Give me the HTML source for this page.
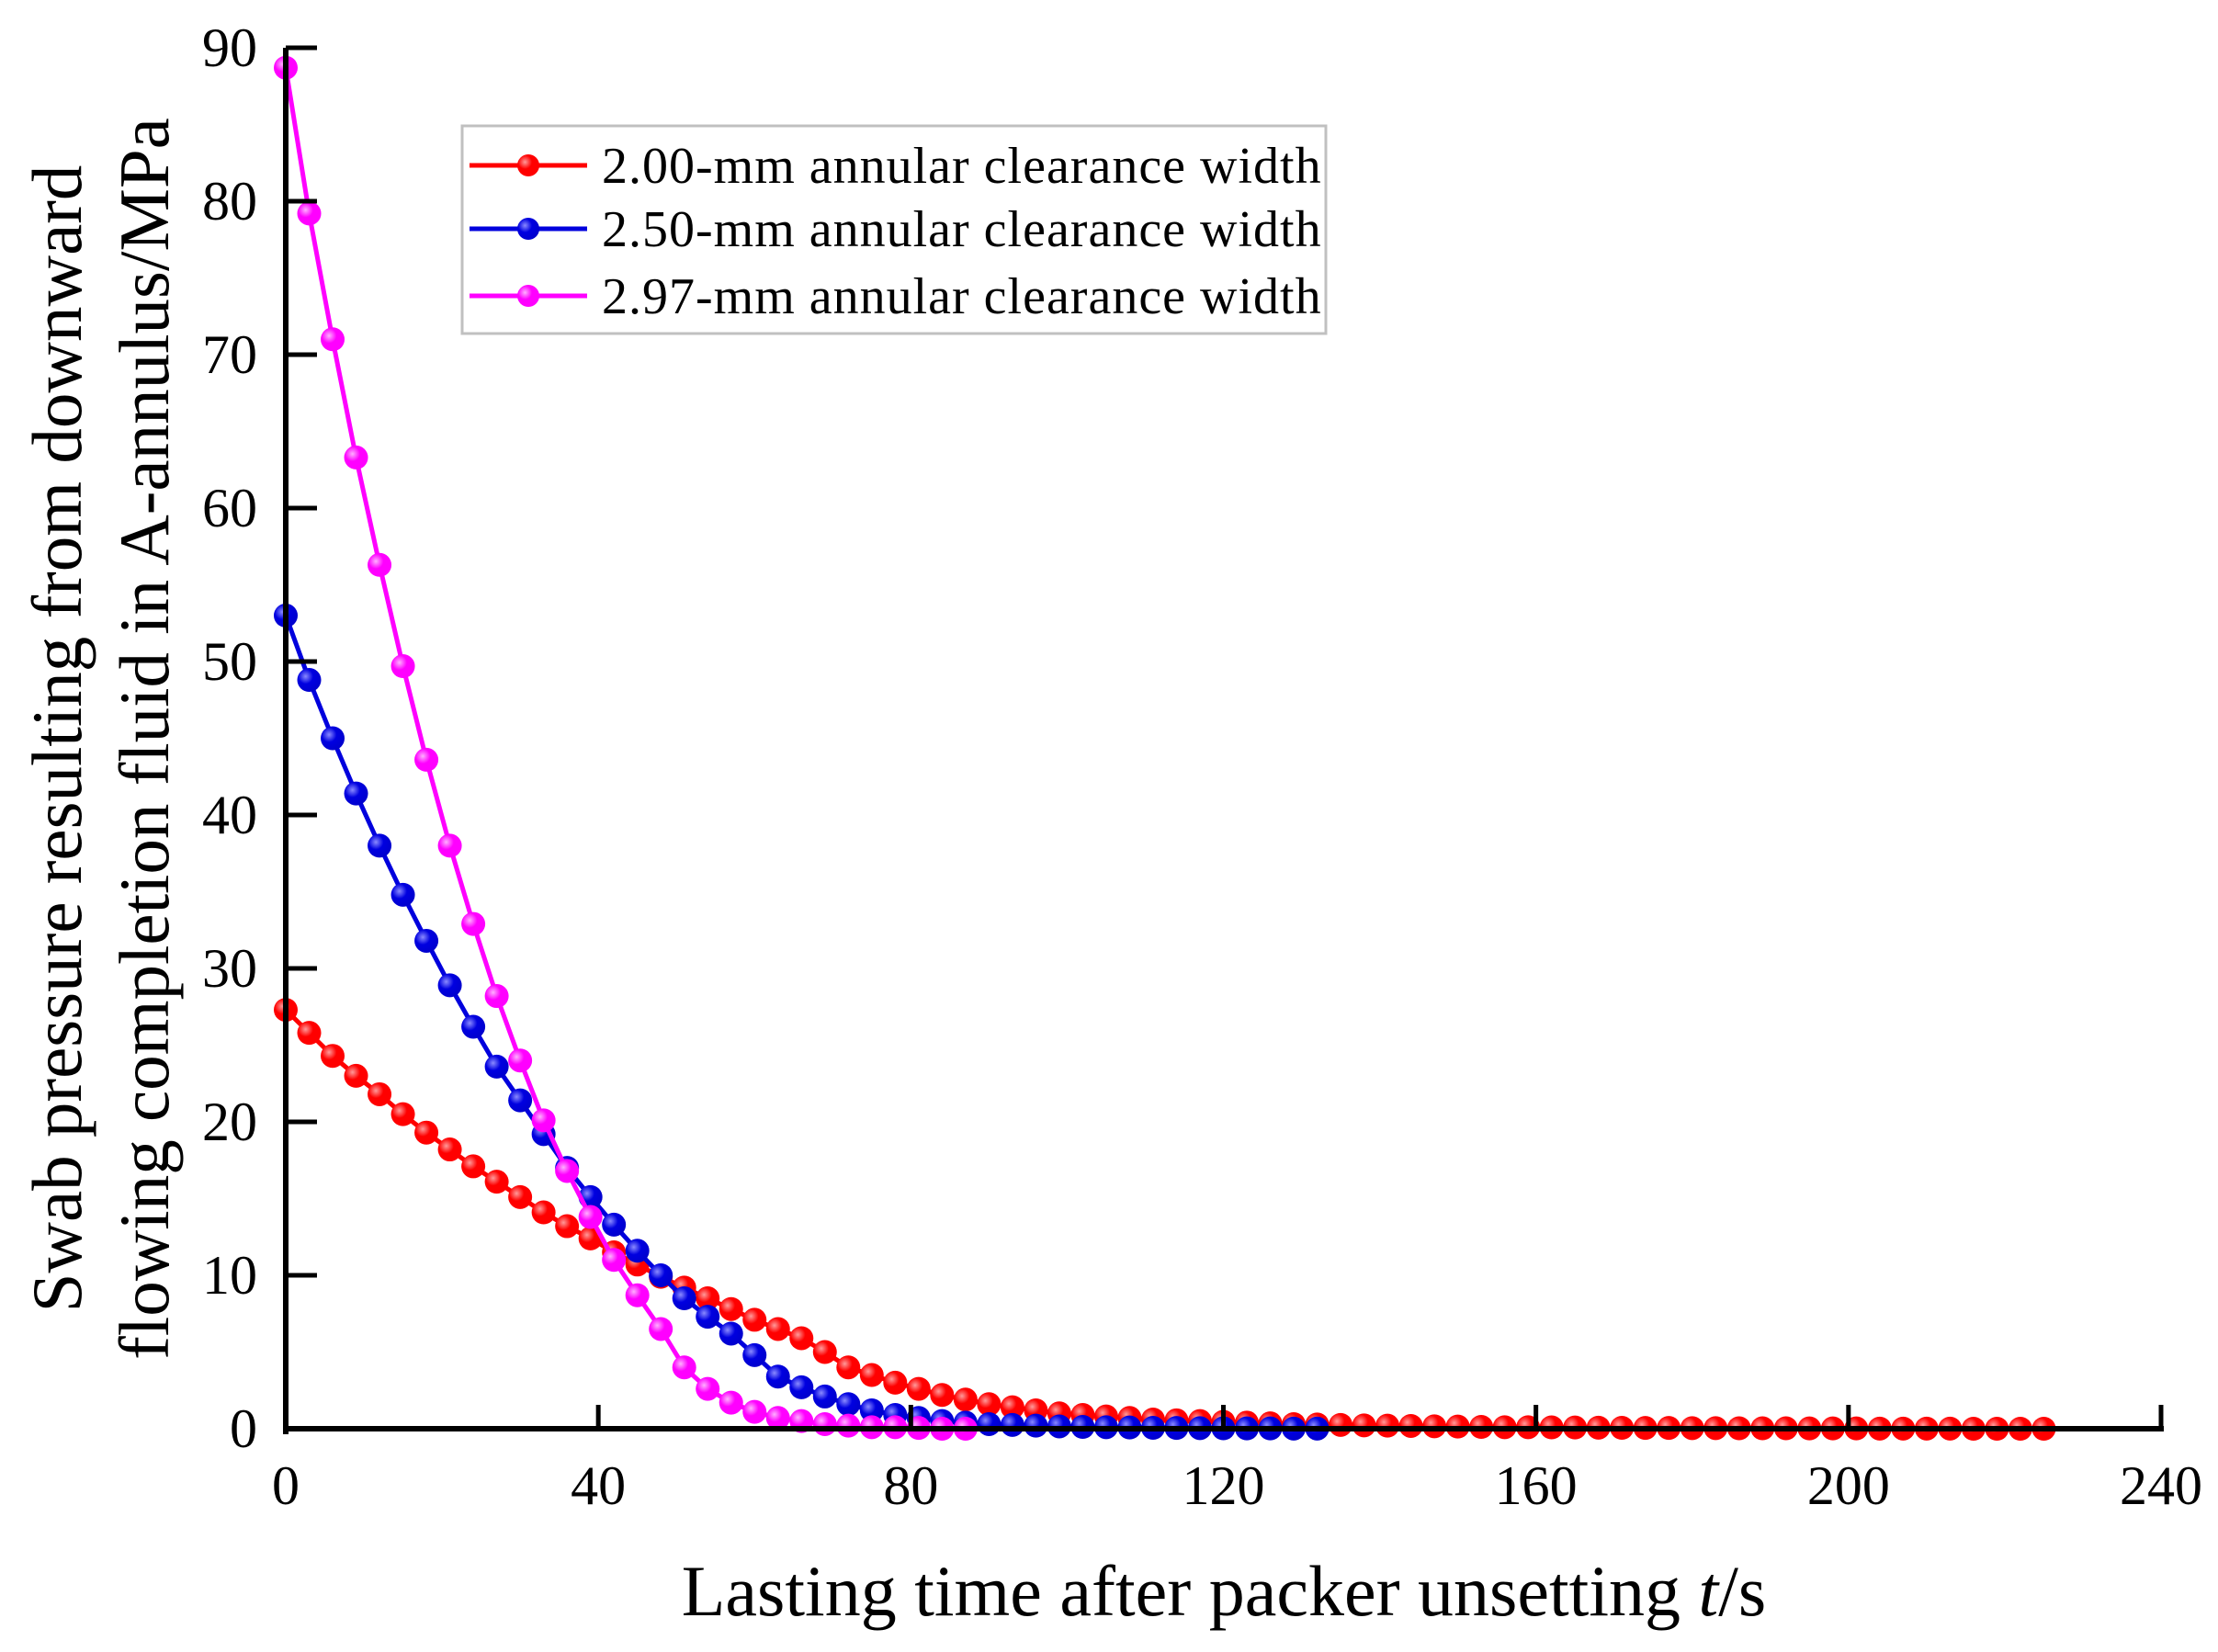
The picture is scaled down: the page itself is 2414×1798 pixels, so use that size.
<!DOCTYPE html>
<html><head><meta charset="utf-8"><style>
html,body{margin:0;padding:0;background:#fff}
svg{display:block}
text{font-family:"Liberation Serif",serif;fill:#000}
</style></head><body>
<svg id="chart" width="2414" height="1798" viewBox="0 0 2414 1798" xmlns="http://www.w3.org/2000/svg">
<defs>
<radialGradient id="gr" cx="0.35" cy="0.35" r="0.7"><stop offset="0" stop-color="#ff9a9a"/><stop offset="0.45" stop-color="#ff0000"/><stop offset="1" stop-color="#ff0000"/></radialGradient>
<radialGradient id="gb" cx="0.35" cy="0.35" r="0.7"><stop offset="0" stop-color="#8a8aff"/><stop offset="0.45" stop-color="#0000e0"/><stop offset="1" stop-color="#0000cc"/></radialGradient>
<radialGradient id="gm" cx="0.35" cy="0.35" r="0.7"><stop offset="0" stop-color="#ffb0ff"/><stop offset="0.45" stop-color="#ff00ff"/><stop offset="1" stop-color="#ff00ff"/></radialGradient>
</defs>
<g id="plot"></g>
<g id="axes"></g>
<text transform="translate(88,804) rotate(-90)" text-anchor="middle" font-size="77">Swab pressure resulting from downward</text>
<text transform="translate(183,804) rotate(-90)" text-anchor="middle" font-size="77">flowing completion fluid in A-annulus/MPa</text>
<text x="1332" y="1758" text-anchor="middle" font-size="78">Lasting time after packer unsetting <tspan font-style="italic">t</tspan>/s</text>
<g>
<rect x="503" y="137" width="940" height="226" fill="#fff" stroke="#c0c0c0" stroke-width="3"/>
</g>
</svg>
<script>
const categoriesStep = 3;
const redValues = [27.3,25.8,24.3,23.0,21.8,20.5,19.3,18.2,17.1,16.1,15.1,14.1,13.2,12.4,11.5,10.7,9.9,9.2,8.5,7.8,7.1,6.5,5.9,5.0,4.0,3.5,3.0,2.6,2.2,1.9,1.6,1.4,1.2,1.0,0.9,0.8,0.7,0.6,0.55,0.5,0.45,0.4,0.35,0.3,0.28,0.25,0.22,0.2,0.18,0.16,0.14,0.12,0.1,0.1,0.09,0.08,0.07,0.06,0.05,0.05,0.04,0.04,0.03,0.03,0.03,0.02,0.02,0.02,0.01,0.01,0.01,0.01,0.0,0.0,0.0,0.0];
const blueValues = [53.0,48.8,45.0,41.4,38.0,34.8,31.8,28.9,26.2,23.6,21.4,19.2,17.0,15.1,13.3,11.6,10.0,8.5,7.3,6.2,4.8,3.4,2.7,2.1,1.6,1.2,0.9,0.7,0.5,0.4,0.3,0.25,0.2,0.15,0.12,0.1,0.08,0.06,0.05,0.04,0.03,0.02,0.02,0.01,0.01];
const magentaValues = [88.7,79.2,71.0,63.3,56.3,49.7,43.6,38.0,32.9,28.2,24.0,20.1,16.8,13.8,11.0,8.7,6.5,4.0,2.6,1.7,1.1,0.7,0.5,0.3,0.2,0.1,0.1,0.05,0.0,0.0];
const xTicks = [0,40,80,120,160,200,240];
const yTicks = [0,10,20,30,40,50,60,70,80,90];
const seriesNames = ["2.00-mm annular clearance width","2.50-mm annular clearance width","2.97-mm annular clearance width"];

const X0=311,X1=2352,Y0=1555,Y1=52;
const sx=v=>X0+(X1-X0)*v/240;
const sy=v=>Y0-(Y0-Y1)*v/90;
const NS="http://www.w3.org/2000/svg";
function mk(tag,attrs,parent){const e=document.createElementNS(NS,tag);for(const k in attrs)e.setAttribute(k,attrs[k]);parent.appendChild(e);return e;}
const plot=document.getElementById('plot'),axes=document.getElementById('axes'),svg=document.getElementById('chart');

const series=[
 {vals:redValues,color:'#ff0000',grad:'url(#gr)',key:'red'},
 {vals:blueValues,color:'#0000dd',grad:'url(#gb)',key:'blue'},
 {vals:magentaValues,color:'#ff00ff',grad:'url(#gm)',key:'magenta'}
];
series.forEach(s=>{
  const pts=s.vals.map((v,i)=>sx(i*categoriesStep).toFixed(1)+','+sy(v).toFixed(1)).join(' ');
  const pl=mk('polyline',{points:pts,fill:'none',stroke:s.color,'stroke-width':5},plot);
  
  
  s.vals.forEach((v,i)=>{
    const c=mk('circle',{cx:sx(i*categoriesStep),cy:sy(v),r:13,fill:s.grad},plot);
    
    
  });
});

const ya=mk('line',{x1:X0,y1:Y1,x2:X0,y2:Y0+6,stroke:'#000','stroke-width':6},axes);


const xa=mk('line',{x1:X0-3,y1:Y0,x2:X1+3,y2:Y0,stroke:'#000','stroke-width':6},axes);


xTicks.forEach(t=>{
  if(t>0){const l=mk('line',{x1:sx(t),y1:Y0,x2:sx(t),y2:Y0-26,stroke:'#000','stroke-width':5},axes);
  
  }
  const tx=mk('text',{x:sx(t),y:1637,'text-anchor':'middle','font-size':60},svg);
  tx.textContent=t;
  
  
});
yTicks.forEach(t=>{
  if(t>0){const l=mk('line',{x1:X0,y1:sy(t),x2:X0+34,y2:sy(t),stroke:'#000','stroke-width':5},axes);
  
  }
  const tx=mk('text',{x:280,y:sy(t)+20,'text-anchor':'end','font-size':60},svg);
  tx.textContent=t;
  
  
});

const ly=[180,249,322];
series.forEach((s,i)=>{
  const g=mk('g',{},svg);
  
  
  mk('line',{x1:511,y1:ly[i],x2:639,y2:ly[i],stroke:s.color,'stroke-width':5},g);
  mk('circle',{cx:575,cy:ly[i],r:12,fill:s.grad},g);
  const t=mk('text',{x:655,y:ly[i]+19,'font-size':56,'letter-spacing':1},g);
  t.textContent=seriesNames[i];
});
</script>
</body></html>
